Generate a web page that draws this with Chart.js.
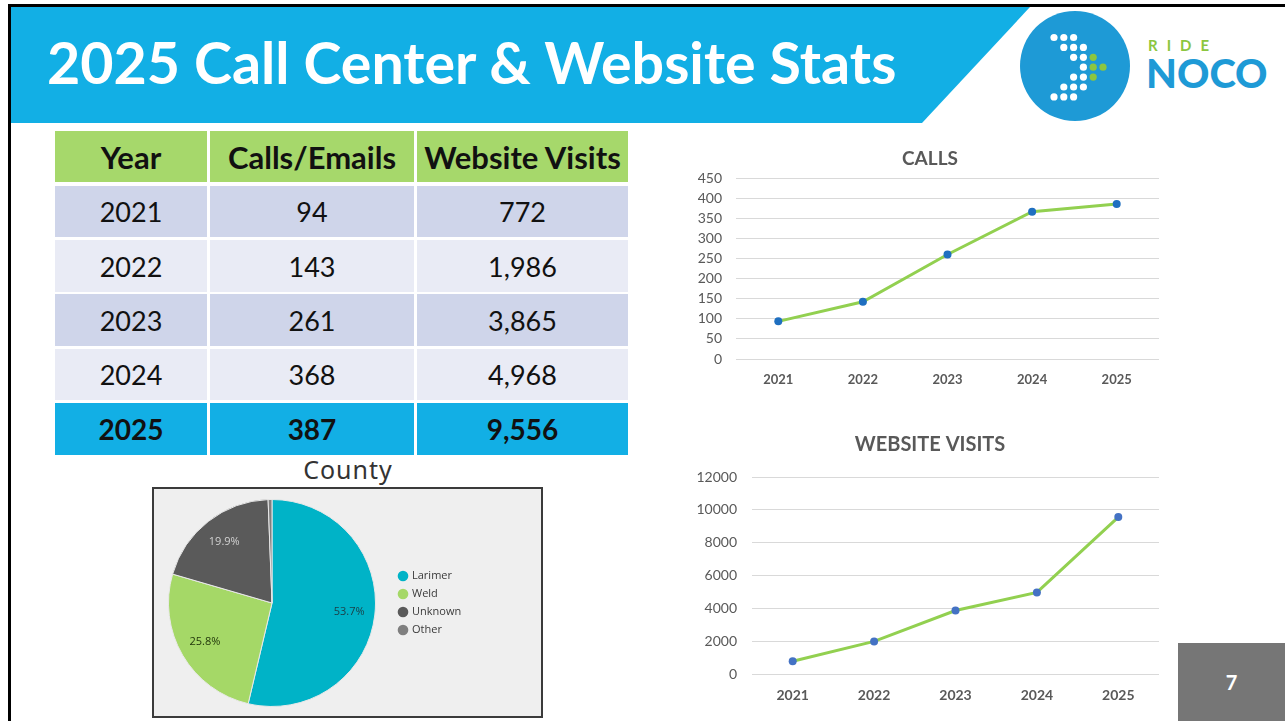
<!DOCTYPE html>
<html>
<head>
<meta charset="utf-8">
<script src="https://cdn.jsdelivr.net/npm/chart.js@4.4.1/dist/chart.umd.min.js"></script>
<style>
  html,body{margin:0;padding:0;background:#fff;}
  #page{position:relative;width:1285px;height:721px;overflow:hidden;background:#fff;font-family:Lato, "Open Sans", sans-serif;}
  .abs{position:absolute;}
  #title{left:47px;top:24px;height:76px;line-height:76px;color:#fff;font-weight:700;white-space:nowrap;font-family:Lato;}
  .cell{position:absolute;display:flex;align-items:center;justify-content:center;color:#111;font-size:27px;font-family:Lato;}
  #pieBox{left:152px;top:487px;width:391px;height:231px;box-sizing:border-box;border:2px solid #3b3b3b;background:#efefef;}
  #countyTitle{left:248px;top:452px;width:200px;text-align:center;font-family:"Noto Sans";font-size:25px;letter-spacing:1px;color:#333;}
</style>
</head>
<body>
<div id="page">
  <svg class="abs" id="deco" width="1285" height="721" style="left:0;top:0">
    <rect x="8" y="4" width="1277" height="3" fill="#000"/>
    <rect x="8" y="4" width="3" height="717" fill="#000"/>
    <polygon points="11,7 1030,7 922,123 11,123" fill="#12afe5"/>
    <circle cx="1075" cy="66" r="55" fill="#1e9ad6"/>
    <g id="dots"></g>
    <rect x="1178" y="643" width="107" height="78" fill="#767676"/>
  </svg>
  <div id="title" class="abs">2025 Call Center &amp; Website Stats</div>
  <div class="abs" style="left:1148px;top:36px;font-family:Lato;font-weight:700;font-size:15px;letter-spacing:9px;color:#8cc63f;">RIDE</div>
  <div class="abs" style="left:1146px;top:48px;font-family:Lato;font-weight:900;font-size:40px;line-height:50px;color:#1e9ad6;">NOCO</div>
  <div class="abs" style="left:1178px;top:643px;width:107px;height:78px;display:flex;align-items:center;justify-content:center;color:#fff;font-weight:700;font-size:20px;font-family:Lato;">7</div>

  <div id="table"></div>

  <div id="countyTitle" class="abs">County</div>
  <div id="pieBox" class="abs"></div>
  <canvas id="pie" class="abs" width="387" height="227" style="left:154px;top:489px;"></canvas>

  <canvas id="calls" class="abs" width="500" height="260" style="left:680px;top:140px;"></canvas>
  <canvas id="visits" class="abs" width="500" height="296" style="left:680px;top:425px;"></canvas>
</div>
<script>
// ---------------- DATA ----------------
const years = ['2021', '2022', '2023', '2024', '2025'];
const callsEmails = [94, 143, 261, 368, 387];
const websiteVisits = [772, 1986, 3865, 4968, 9556];
const tableHeaders = ['Year', 'Calls/Emails', 'Website Visits'];
const counties = ['Larimer', 'Weld', 'Unknown', 'Other'];
const countyShare = [53.7, 25.8, 19.9, 0.6];
const callsAxis = [0, 450, 50];      // min, max, step
const visitsAxis = [0, 12000, 2000]; // min, max, step

// ---------------- STYLE ----------------
const GREEN = '#92d050';
const countyColors = ['#00b3c7', '#a5d867', '#5a5a5a', '#7f7f7f'];
const countyLabelColors = ['#1b3d45', '#23380c', '#d2d2d2', '#eee'];
const gray = '#595959';

// ---------------- LOGO DOTS ----------------
(function(){
  const g = document.getElementById('dots');
  const rows = [[0,1,2],[1,2,3],[2,3,4],[3,4,5],[2,3,4],[1,2,3],[0,1,2]];
  const greens = {'2,4':1,'3,4':1,'3,5':1,'4,4':1};
  rows.forEach((cols,r)=>{
    cols.forEach(c=>{
      const el = document.createElementNS('http://www.w3.org/2000/svg','circle');
      el.setAttribute('cx', 1054 + 9.8*c);
      el.setAttribute('cy', 37.5 + 9.9*r);
      el.setAttribute('r', 3.6);
      el.setAttribute('fill', greens[r+','+c] ? '#8cc63f' : '#fff');
      g.appendChild(el);
    });
  });
})();

// ---------------- TITLE FIT ----------------
(function(){
  const t = document.getElementById('title');
  const c = document.createElement('canvas').getContext('2d');
  c.font = '700 56px Lato';
  const w = c.measureText(t.textContent).width;
  t.style.fontSize = (56 * 851 / w).toFixed(2) + 'px';
})();

// ---------------- TABLE ----------------
(function(){
  const host = document.getElementById('table');
  const colX = [55, 210, 417], colW = [152, 204, 211];
  const rowY = [131, 186, 240, 294, 349, 403], rowH = [51, 51, 52, 52, 51, 52];
  const rows = [tableHeaders].concat(years.map((y,i)=>[y, String(callsEmails[i]), websiteVisits[i].toLocaleString('en-US')]));
  rows.forEach((row, r)=>{
    let bg, bold = false;
    if (r === 0) { bg = '#a6d86b'; bold = true; }
    else if (r === rows.length - 1) { bg = '#12afe5'; bold = true; }
    else bg = (r % 2 === 1) ? '#cfd5ea' : '#e9ebf5';
    row.forEach((txt, c)=>{
      const d = document.createElement('div');
      d.className = 'cell';
      d.style.left = colX[c] + 'px'; d.style.top = rowY[r] + 'px';
      d.style.width = colW[c] + 'px'; d.style.height = rowH[r] + 'px';
      d.style.background = bg;
      d.style.fontWeight = bold ? '700' : '400';
      if (r === 0) d.style.fontSize = '31px';
      if (r === rows.length - 1) d.style.fontSize = '28px';
      d.textContent = txt;
      host.appendChild(d);
    });
  });
})();

Chart.defaults.font.family = 'Lato';
Chart.defaults.animation = false;

// ---------------- LINE CHARTS ----------------
function lineChart(id, title, titleSize, titlePad, values, axis, pointColor, yWidth, yPad, xHeight, xPad, xFont) {
  return new Chart(document.getElementById(id), {
    type: 'line',
    data: { labels: years, datasets: [{ data: values, borderColor: GREEN, borderWidth: 3, tension: 0,
      pointRadius: 4, pointBackgroundColor: pointColor, pointBorderColor: pointColor, pointBorderWidth: 0, fill: false }] },
    options: {
      responsive: false, animation: false, devicePixelRatio: 1,
      layout: { padding: 0 },
      plugins: {
        legend: { display: false }, tooltip: { enabled: false },
        title: { display: true, text: title, color: gray, font: { family: 'Lato', size: titleSize, weight: 'bold' }, padding: titlePad }
      },
      scales: {
        x: { offset: true, grid: { display: false, drawTicks: false }, border: { display: false },
             ticks: { color: gray, font: { family: 'Lato', size: xFont, weight: 'bold' }, padding: xPad, maxRotation: 0 },
             afterFit(s) { s.height = xHeight; } },
        y: { min: axis[0], max: axis[1], border: { display: false },
             grid: { color: '#d9d9d9', drawTicks: false, lineWidth: 1 },
             ticks: { stepSize: axis[2], color: gray, font: { family: 'Lato', size: 14 }, padding: yPad,
                      callback: (v) => String(v) },
             afterFit(s) { s.width = yWidth; } },
        yRight: { position: 'right', display: true, grid: { display: false, drawTicks: false }, border: { display: false },
             ticks: { display: false }, afterFit(s) { s.width = 21; } }
      }
    }
  });
}
lineChart('calls', 'CALLS', 19, { top: 7, bottom: 9 }, callsEmails, callsAxis, '#1f6fc0', 56, 14, 41, 13, 13);
lineChart('visits', 'WEBSITE VISITS', 20, { top: 8, bottom: 20 }, websiteVisits, visitsAxis, '#4472c4', 72, 15, 47, 13, 14);

// ---------------- PIE ----------------
const pieLabels = {
  id: 'pieLabels',
  afterDatasetsDraw(chart) {
    const ctx = chart.ctx, meta = chart.getDatasetMeta(0), ds = chart.data.datasets[0];
    ctx.save();
    ctx.font = '11px "Open Sans"';
    ctx.textAlign = 'center'; ctx.textBaseline = 'middle';
    meta.data.forEach((arc, i) => {
      const v = ds.data[i];
      if (v < 2) return;
      const p = arc.getProps(['x', 'y', 'startAngle', 'endAngle', 'outerRadius'], true);
      const mid = (p.startAngle + p.endAngle) / 2, r = p.outerRadius * 0.75;
      ctx.fillStyle = countyLabelColors[i];
      ctx.fillText(v.toFixed(1) + '%', p.x + Math.cos(mid) * r, p.y + Math.sin(mid) * r);
    });
    // legend
    ctx.textAlign = 'left';
    chart.data.labels.forEach((lab, i) => {
      const y = 87 + 18 * i;
      ctx.beginPath(); ctx.arc(249, y, 5.3, 0, Math.PI * 2);
      ctx.fillStyle = ds.backgroundColor[i]; ctx.fill();
      ctx.fillStyle = '#3a3a3a'; ctx.font = '11px "Open Sans"';
      ctx.fillText(lab, 258, y);
    });
    ctx.restore();
  }
};
new Chart(document.getElementById('pie'), {
  type: 'pie',
  data: { labels: counties, datasets: [{ data: countyShare, backgroundColor: countyColors, borderColor: '#e8e8e8', borderWidth: 1 }] },
  options: {
    responsive: false, animation: false, devicePixelRatio: 1,
    layout: { padding: { left: 14, right: 165, top: 10, bottom: 9 } },
    plugins: { legend: { display: false }, tooltip: { enabled: false } }
  },
  plugins: [pieLabels]
});
</script>
</body>
</html>
